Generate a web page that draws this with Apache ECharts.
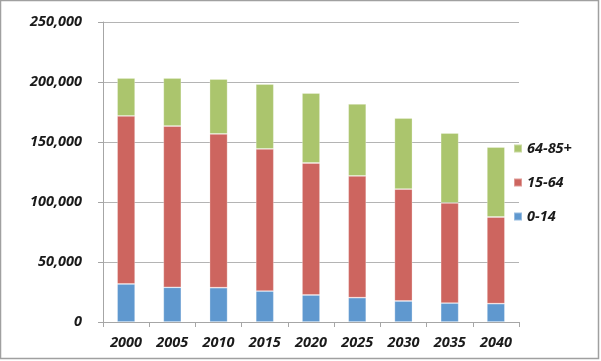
<!DOCTYPE html>
<html><head><meta charset="utf-8">
<script src="https://cdn.jsdelivr.net/npm/echarts@6/dist/echarts.min.js"></script>
<style>html,body{margin:0;padding:0;background:#fff}#c{width:601px;height:361px}</style>
</head><body><div id="c"></div>
<script>
var years = ['2000','2005','2010','2015','2020','2025','2030','2035','2040'];
var age0_14 = [31700, 28900, 28600, 25800, 22500, 20300, 17500, 15800, 15300];
var age15_64 = [140000, 134400, 128100, 118400, 110000, 101400, 93300, 83400, 72200];
var age65plus = [31600, 40000, 45800, 54100, 58300, 60000, 59200, 58300, 58300];
var seriesNames = ['0-14', '15-64', '64-85+'];
var yTicks = [0, 50000, 100000, 150000, 200000, 250000];

var FONT = '"Open Sans", "Liberation Sans", sans-serif';
var chart = echarts.init(document.getElementById('c'), null, {renderer:'canvas'});
var colors = ['#5f98cf', '#cd655f', '#abc56d'];
var data = [age0_14, age15_64, age65plus];
chart.setOption({
  animation: false,
  grid: {left: 103, right: 82, top: 22, bottom: 39},
  legend: {
    orient: 'vertical', left: 513, top: 141, padding: 0,
    data: [seriesNames[2], seriesNames[1], seriesNames[0]],
    itemWidth: 8, itemHeight: 8, itemGap: 19,
    icon: 'rect',
    textStyle: {fontFamily: FONT, fontStyle: 'italic', fontWeight: 'bold', fontSize: 14.5, color: '#1a1a1a', lineHeight: 14}
  },
  xAxis: {
    type: 'category', data: years,
    axisLine: {lineStyle: {color: '#a6a6a6'}},
    axisTick: {show: true, length: 5, lineStyle: {color: '#a6a6a6'}},
    axisLabel: {margin: 13, fontFamily: FONT, fontStyle: 'italic', fontWeight: 'bold', fontSize: 14.5, color: '#1a1a1a'}
  },
  yAxis: {
    type: 'value', min: yTicks[0], max: yTicks[yTicks.length-1], interval: 50000,
    axisLine: {show: true, lineStyle: {color: '#a6a6a6'}},
    axisTick: {show: true, length: 5, lineStyle: {color: '#a6a6a6'}},
    splitLine: {lineStyle: {color: '#b4b4b4'}},
    axisLabel: {margin: 21, fontFamily: FONT, fontStyle: 'italic', fontWeight: 'bold', fontSize: 14.5, color: '#1a1a1a',
      formatter: function(v){ return v.toLocaleString('en-US'); }}
  },
  graphic: [{type: 'rect', shape: {x: 0.5, y: 0.5, width: 598, height: 358}, style: {fill: 'none', stroke: '#a0a0a0', lineWidth: 1.5}, silent: true, z: 100}],
  series: seriesNames.map(function(n, i){
    return {name: n, type: 'bar', stack: 'pop', data: data[i], barWidth: 18,
      itemStyle: {color: colors[i], borderColor: 'rgba(255,255,255,0.35)', borderWidth: 0.8}};
  })
});
</script></body></html>
